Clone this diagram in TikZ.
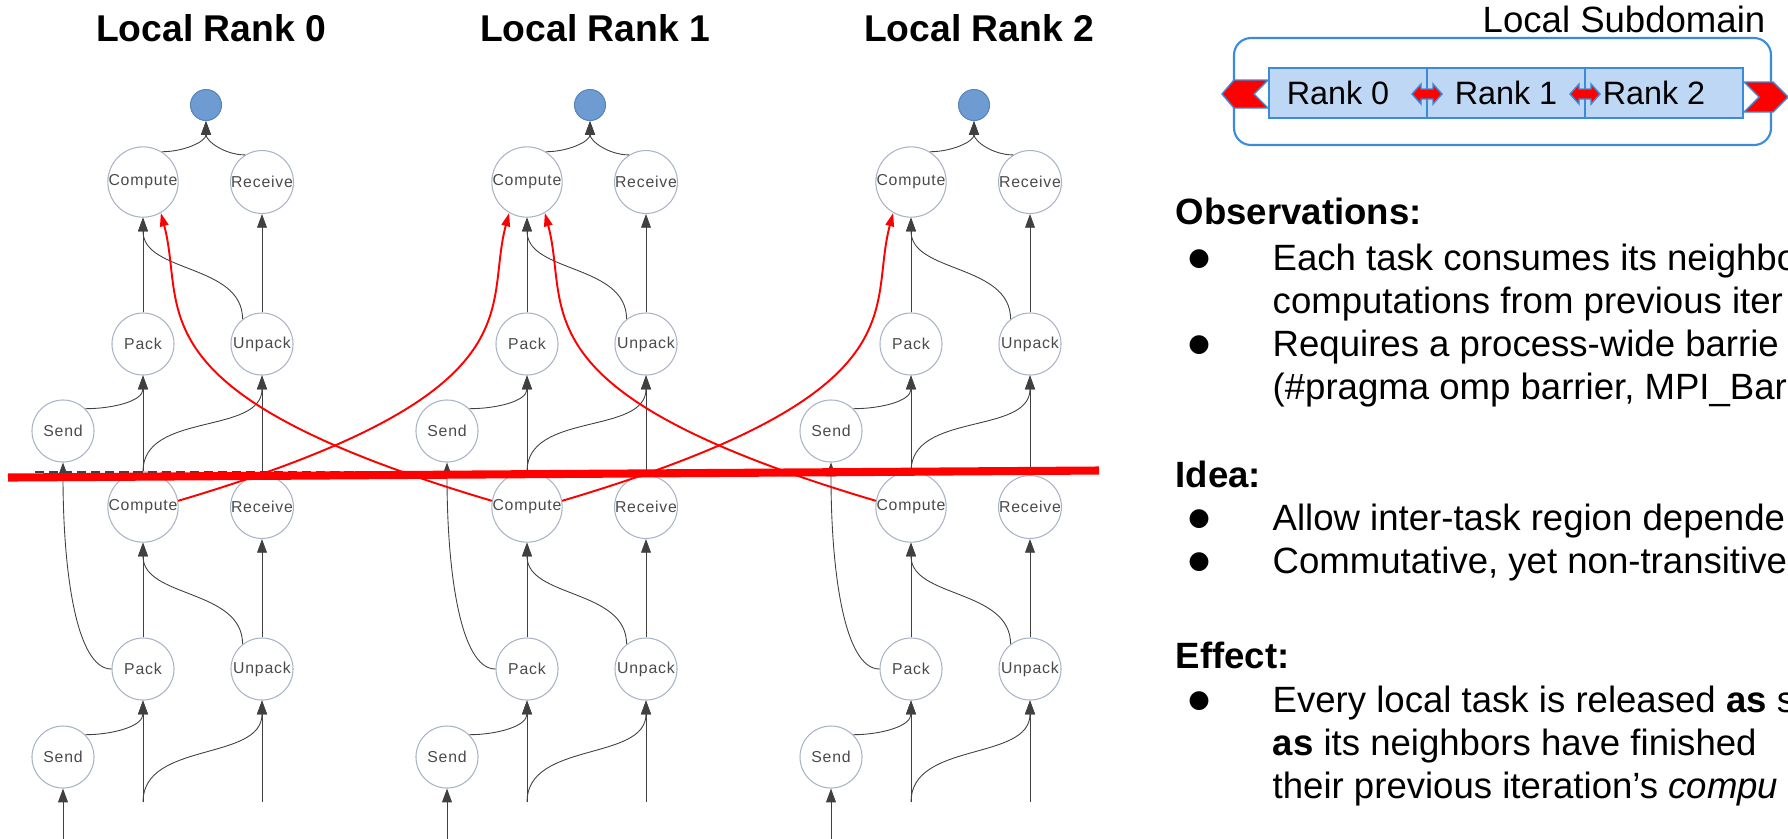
\documentclass[tikz,border=0pt]{standalone}
\usepackage{fontspec}
\setmainfont{Liberation Sans}
\newfontfamily\symfont{DejaVu Sans}
\newfontfamily\taskfont[LetterSpace=5]{Liberation Sans}
\usetikzlibrary{arrows.meta}
\definecolor{ring}{HTML}{A9B3C6}
\definecolor{label}{HTML}{4A4A4A}
\definecolor{sinkfill}{HTML}{6E9BD1}
\definecolor{sinkedge}{HTML}{5A84BA}
\definecolor{cell}{HTML}{BDD7F5}
\definecolor{frame}{HTML}{3A8BDA}

\begin{document}
\begin{tikzpicture}[x=0.01cm,y=-0.01cm,>={Triangle[length=3.9pt,width=2.8pt]},
 task/.style={circle,draw=ring,line width=0.3pt,minimum size=0.62cm,inner sep=0pt,
  text=label,font=\taskfont\fontsize{4.5}{5}\selectfont},
 sinkdot/.style={circle,draw=sinkedge,fill=sinkfill,line width=0.3pt,minimum size=0.31cm,inner sep=0pt},
 rankhead/.style={anchor=base,font=\bfseries\fontsize{10.6}{12}\selectfont},
 dep/.style={->,black!75,line width=0.25pt},
 halo/.style={->,red,line width=0.55pt,>={Triangle[length=3.8pt,width=2.4pt]}},
 cellbox/.style={draw=frame,fill=cell,line width=0.4pt,minimum width=1.58cm,minimum height=0.5cm,
  inner sep=0pt,font=\fontsize{9.2}{10}\selectfont},
 halobox/.style={draw=frame,fill=red,line width=0.4pt},
 note/.style={anchor=base west,inner sep=0pt,font=\fontsize{10.4}{12}\selectfont},
 notehead/.style={note,font=\bfseries\fontsize{10.4}{12}\selectfont},
 bulletpt/.style={inner sep=0pt,font=\symfont\fontsize{7}{7}\selectfont}]
\useasboundingbox (0,0) rectangle (1788,838);
\clip (0,0) rectangle (1788,838);

% task graph of every rank, two iterations
\foreach \i in {0,1,2}{
 \pgfmathsetmacro\x{143+384*\i}
 \pgfmathsetmacro\xr{\x+119}
 \pgfmathsetmacro\xs{\x-80}
 \pgfmathsetmacro\xd{\x+63}
 \node[rankhead] (head\i) at (\xd+5,41) {Local Rank \i};
 \node[sinkdot] (dot\i) at (\xd,105) {};
 \node[task] (cu\i) at (\x,182) {Compute};
 \node[task] (ru\i) at (\xr,182) {Receive};
 \node[task] (pu\i) at (\x,344) {Pack};
 \node[task] (uu\i) at (\xr,344) {Unpack};
 \node[task] (su\i) at (\xs,431) {Send};
 \node[task] (cl\i) at (\x,507) {Compute};
 \node[task] (rl\i) at (\xr,507) {Receive};
 \node[task] (pl\i) at (\x,669) {Pack};
 \node[task] (ul\i) at (\xr,669) {Unpack};
 \node[task] (sl\i) at (\xs,757) {Send};
 \coordinate (bc\i) at (\x,802);
 \coordinate (br\i) at (\xr,802);
 \coordinate (bs\i) at (\xs,840);
 % upper iteration
 \draw[dep] (cu\i.58) to[out=0,in=270] (dot\i.south);
 \draw[dep] (ru\i.122) to[out=180,in=270] (dot\i.south);
 \draw[dep] (pu\i) -- (cu\i);
 \draw[dep] (uu\i.128) to[out=90,in=270] (cu\i.south);
 \draw[dep] (uu\i) -- (ru\i);
 \draw[dep] (su\i.45) to[out=0,in=270] (pu\i.south);
 \draw[dep] (cl\i) -- (pu\i);
 \draw[dep] (cl\i.north) to[out=90,in=270] (uu\i.south);
 \draw[dep] (rl\i) -- (uu\i);
 \draw[dep] (pl\i.west) .. controls +(-35,0) and +(0,110) .. (su\i.south);
 % lower iteration
 \draw[dep] (pl\i) -- (cl\i);
 \draw[dep] (ul\i.128) to[out=90,in=270] (cl\i.south);
 \draw[dep] (ul\i) -- (rl\i);
 \draw[dep] (sl\i.45) to[out=0,in=270] (pl\i.south);
 \draw[dep] (bc\i) -- (pl\i);
 \draw[dep] (bc\i) to[out=90,in=270] (ul\i.south);
 \draw[dep] (br\i) -- (ul\i);
 \draw[dep] (bs\i) -- (sl\i);
}

% barrier between the iterations
\coordinate (sync west) at (35,472);
\coordinate (sync east) at (1099,472);
\draw[black!75,line width=0.5pt,dash pattern=on 2.6pt off 1.4pt] (sync west) -- (sync east);
\draw[red,line width=2.3pt] (8,477.5) -- (1099,470.5);

% neighbour dependencies across ranks
\foreach \a/\b in {0/1,1/2}{
 \draw[halo] (cl\a.10) .. controls +(364,-108) and +(-26,97) .. (cu\b.240);
 \draw[halo] (cl\b.170) .. controls +(-364,-108) and +(26,97) .. (cu\a.300);
}

% subdomain split into ranks
\node[anchor=base,font=\fontsize{10.4}{12}\selectfont] (sub) at (1624,32) {Local Subdomain};
\draw[frame,line width=0.6pt,rounded corners=0.17cm] (1234,38) rectangle (1771,145);
\draw[halobox] (1222,94) -- (1234,80) -- (1268,80) -- (1254,94) -- (1268,108) -- (1234,108) -- cycle;
\draw[halobox] (1744,82) -- (1773,82) -- (1788,97) -- (1773,112) -- (1744,112) -- (1759,97) -- cycle;
\node[cellbox] (sd0) at (1348,93) {Rank 0\kern0.2cm};
\node[cellbox] (sd1) at (1506,93) {Rank 1};
\node[cellbox] (sd2) at (1664,93) {Rank 2\kern0.2cm};
\foreach \c in {1427,1585}
 \draw[halobox] (\c-15,94) -- ++(9,-10) -- ++(0,5) -- ++(12,0) -- ++(0,-5) -- ++(9,10)
  -- ++(-9,10) -- ++(0,-5) -- ++(-12,0) -- ++(0,5) -- cycle;

% notes
\node[notehead] (obs) at (1175,224) {Observations:};
\node[bulletpt] (obsb1) at (1199,259) {●};
\node[note] (obs1) at (1272,270) {Each task consumes its neighbo};
\node[note] (obs2) at (1272,313) {computations from previous iter};
\node[bulletpt] (obsb3) at (1199,345) {●};
\node[note] (obs3) at (1272,356) {Requires a process-wide barrie};
\node[note] (obs4) at (1272,399) {(\#pragma omp barrier, MPI\_Bar};
\node[notehead] (idea) at (1175,487) {Idea:};
\node[bulletpt] (ideab1) at (1199,519) {●};
\node[note] (idea1) at (1272,530) {Allow inter-task region depende};
\node[bulletpt] (ideab2) at (1199,562) {●};
\node[note] (idea2) at (1272,573) {Commutative, yet non-transitive};
\node[notehead] (eff) at (1175,668) {Effect:};
\node[bulletpt] (effb1) at (1199,701) {●};
\node[note] (eff1) at (1272,712) {Every local task is released \textbf{as} s};
\node[note] (eff2) at (1272,755) {\textbf{as} its neighbors have finished};
\node[note] (eff3) at (1272,798) {their previous iteration’s \textit{compu}};
\end{tikzpicture}
\end{document}
